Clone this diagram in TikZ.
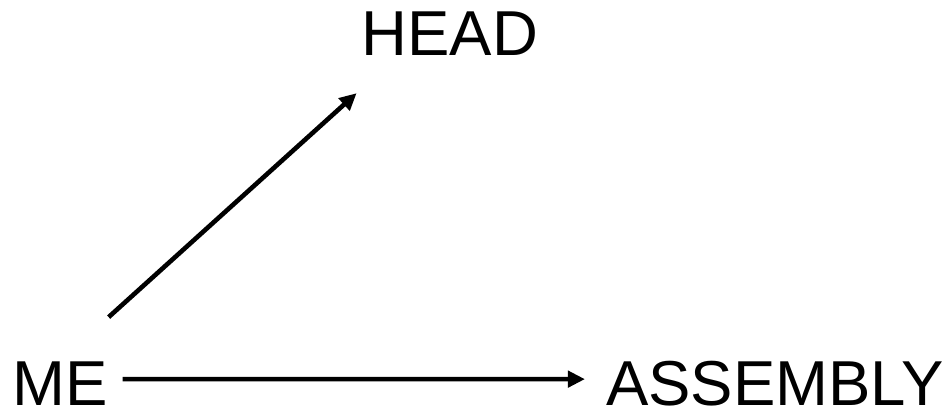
\documentclass[tikz,border=0pt]{standalone}
\usepackage{fontspec}
\setmainfont{Liberation Sans}
\usetikzlibrary{arrows.meta}
\begin{document}
\begin{tikzpicture}[x=1pt,y=1pt,
  lbl/.style={inner sep=0pt,font=\fontsize{63.5}{63.5}\selectfont},
  conn/.style={line width=4.6pt,-{Triangle[length=17pt,width=16pt]}}]
\useasboundingbox (0,0) rectangle (946,409);
\node[lbl,anchor=base west] (me) at (12,3) {ME};
\node[lbl,anchor=base] (head) at (450,353) {HEAD};
\node[lbl,anchor=base east] (asm) at (944,3) {ASSEMBLY};
\draw[conn] ([xshift=15pt,yshift=5pt]me.east) -- ([xshift=-21pt,yshift=5pt]asm.west);
\draw[conn] ([xshift=1pt,yshift=45pt]me.north east) -- ([xshift=-5pt,yshift=-37pt]head.south west);
\end{tikzpicture}
\end{document}
